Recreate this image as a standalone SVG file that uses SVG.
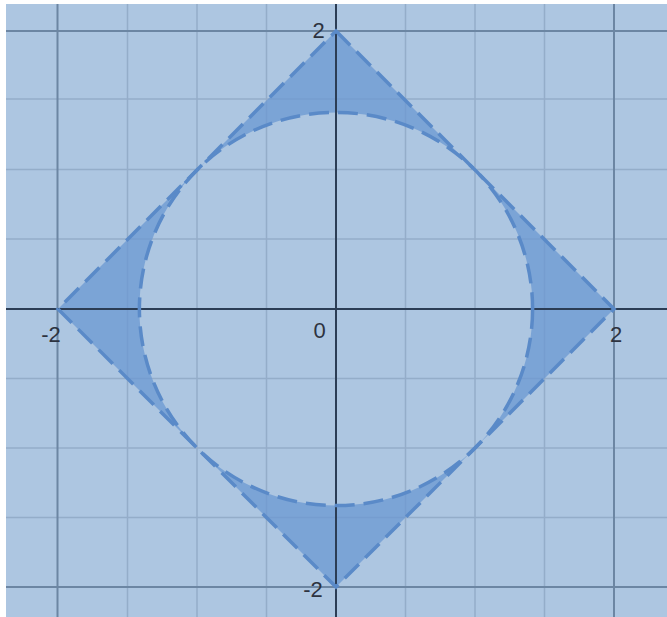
<svg xmlns="http://www.w3.org/2000/svg" width="667" height="617" viewBox="0 0 667 617">
<style>
.minor{stroke:#94adc9;stroke-width:1.5}
.major{stroke:#6c86a3;stroke-width:2}
.axis{stroke:#2b3d55;stroke-width:2}
.curve{fill:none;stroke:#5a8ac8;stroke-width:3.5;stroke-dasharray:20 9}
.lbl{font-family:"Liberation Sans",Arial,sans-serif;font-size:22px;fill:#2d3340;text-anchor:middle}
</style>
<rect x="0" y="0" width="667" height="617" fill="#ffffff"/>
<rect x="6" y="4" width="661" height="613" fill="#adc6e1"/>
<g id="grid">
<line class="minor" x1="127.5" y1="4" x2="127.5" y2="617"/>
<line class="minor" x1="197" y1="4" x2="197" y2="617"/>
<line class="minor" x1="266.5" y1="4" x2="266.5" y2="617"/>
<line class="minor" x1="405.5" y1="4" x2="405.5" y2="617"/>
<line class="minor" x1="475" y1="4" x2="475" y2="617"/>
<line class="minor" x1="544.5" y1="4" x2="544.5" y2="617"/>
<line class="minor" x1="6" y1="99" x2="667" y2="99"/>
<line class="minor" x1="6" y1="169.5" x2="667" y2="169.5"/>
<line class="minor" x1="6" y1="239" x2="667" y2="239"/>
<line class="minor" x1="6" y1="378.5" x2="667" y2="378.5"/>
<line class="minor" x1="6" y1="448" x2="667" y2="448"/>
<line class="minor" x1="6" y1="517.5" x2="667" y2="517.5"/>
<line class="major" x1="57.5" y1="4" x2="57.5" y2="617"/>
<line class="major" x1="614" y1="4" x2="614" y2="617"/>
<line class="major" x1="6" y1="31" x2="667" y2="31"/>
<line class="major" x1="6" y1="587" x2="667" y2="587"/>
</g>
<g id="shaded">
<path d="M336,31 L614,309 L336,587 L58,309 Z M336,112.4 A196.6,196.6 0 1,0 336,505.6 A196.6,196.6 0 1,0 336,112.4 Z" fill="#6b98d2" fill-opacity="0.75" fill-rule="evenodd"/>
</g>
<g id="axes">
<line class="axis" x1="6" y1="309" x2="667" y2="309"/>
<line class="axis" x1="336" y1="4" x2="336" y2="617"/>
</g>
<g id="curves">
<path id="diamond" class="curve" d="M336,31 L614,309 L336,587 L58,309 Z"/>
<circle id="circle" class="curve" cx="336" cy="309" r="196.6"/>
</g>
<g id="labels">
<text class="lbl" x="318.5" y="38">2</text>
<text class="lbl" x="51" y="342">-2</text>
<text class="lbl" x="319.5" y="338">0</text>
<text class="lbl" x="616" y="342">2</text>
<text class="lbl" x="313" y="597">-2</text>
</g>
</svg>
